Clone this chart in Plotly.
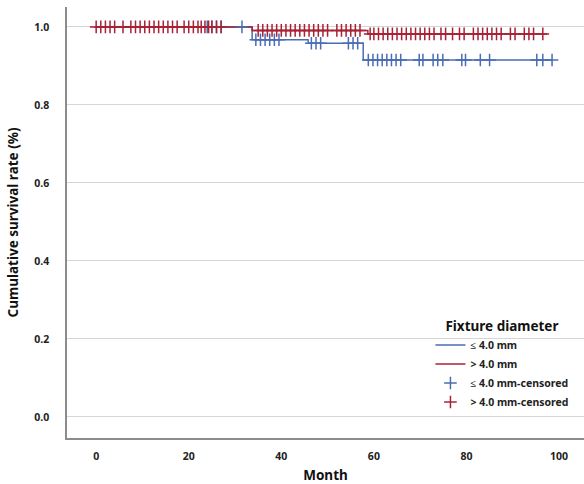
import plotly.graph_objects as go

# ---- data ----
blue_step_t = [0, 33.7, 45.8, 57.7, 98.5]
blue_step_s = [1.0, 0.967, 0.958, 0.915, 0.915]
red_step_t = [0, 33.7, 58.7, 97.4]
red_step_s = [1.0, 0.991, 0.982, 0.982]

blue_cens_t = [24, 25, 26, 27, 31.5,
               34.5, 35.5, 36.5, 37.5, 38.5, 39.5,
               46.5, 47.5, 48.5, 54.5, 55.5, 56.5,
               58.8, 59.8, 60.8, 61.8, 62.8, 63.8, 64.8, 65.8,
               69.8, 70.6, 72.8, 73.8, 74.9, 79.0, 79.8, 83.0, 85.0,
               95.2, 96.5, 98.5]
red_cens_t = [0, 1, 2, 3, 4, 5.8,
              7.5, 8.5, 9.5, 10.5, 11.5, 12.5, 13.5, 14.5, 15.5, 16.5, 17.5,
              19, 20, 21, 22, 22.7, 23.5, 24.3, 25, 26, 27,
              35, 36, 37, 38, 39, 40, 41, 42, 43, 44, 45, 46, 47, 48, 49, 50,
              52, 53, 54, 55, 56, 57,
              59.2, 60, 61, 62, 63, 64, 65, 66, 67, 68, 69, 70, 71, 72, 73,
              74.5, 75.5, 77, 78.5, 79.5, 81.5, 82.5, 83.5, 84.5, 85.5, 86.5, 87.5,
              89.5, 90.5, 92.5, 93.5, 94.5, 96.5]

series_names = ["≤ 4.0 mm", "> 4.0 mm", "≤ 4.0 mm-censored", "> 4.0 mm-censored"]
legend_title = "Fixture diameter"
x_ticks = [0, 20, 40, 60, 80, 100]
y_ticks = [0.0, 0.2, 0.4, 0.6, 0.8, 1.0]

BLUE = "#4a6db5"
RED = "#a82236"


def surv_at(ts, ss, t):
    v = ss[0]
    for ti, si in zip(ts, ss):
        if t >= ti:
            v = si
    return v


blue_cens_s = [surv_at(blue_step_t, blue_step_s, t) for t in blue_cens_t]
red_cens_s = [surv_at(red_step_t, red_step_s, t) for t in red_cens_t]

fig = go.Figure()
fig.add_trace(go.Scatter(x=blue_step_t, y=blue_step_s, mode="lines", line_shape="hv",
                         line=dict(color=BLUE, width=1.5), name=series_names[0]))
fig.add_trace(go.Scatter(x=red_step_t, y=red_step_s, mode="lines", line_shape="hv",
                         line=dict(color=RED, width=1.5), name=series_names[1]))
fig.add_trace(go.Scatter(x=blue_cens_t, y=blue_cens_s, mode="markers",
                         marker=dict(symbol="cross-thin", size=9, line=dict(color=BLUE, width=1.5)),
                         name=series_names[2]))
fig.add_trace(go.Scatter(x=red_cens_t, y=red_cens_s, mode="markers",
                         marker=dict(symbol="cross-thin", size=9, line=dict(color=RED, width=1.5)),
                         name=series_names[3]))

FONT = "Noto Sans"
fig.update_layout(
    width=584, height=484,
    margin=dict(l=67, r=0, t=7, b=46),
    paper_bgcolor="white", plot_bgcolor="white",
    font=dict(family=FONT, color="#222222"),
    showlegend=True,
    legend=dict(
        title=dict(text=legend_title, side="top center",
                   font=dict(size=13.5, weight="bold", color="#111111")),
        x=0.703, xanchor="left", y=0.29, yanchor="top",
        bgcolor="rgba(255,255,255,0)",
        font=dict(size=10.5, weight="bold", color="#222222"),
        tracegroupgap=0, itemwidth=30,
    ),
    xaxis=dict(
        range=[-6.3, 105.4], tickvals=x_ticks, showgrid=False, zeroline=False,
        showline=True, linecolor="#8c8c8c", linewidth=1.5, ticks="",
        ticklabelstandoff=8,
        tickfont=dict(size=10.5, weight="bold", color="#222222"),
        title=dict(text="Month", font=dict(size=13.5, weight="bold", color="#111111"), standoff=8),
    ),
    yaxis=dict(
        range=[-0.054, 1.051], tickvals=y_ticks, tickformat=".1f",
        showgrid=True, gridcolor="#d6d6d6", gridwidth=1, zeroline=False,
        showline=True, linecolor="#8c8c8c", linewidth=1.5, ticks="",
        ticklabelstandoff=14,
        tickfont=dict(size=10.5, weight="bold", color="#222222"),
        title=dict(text="Cumulative survival rate (%)",
                   font=dict(size=13.5, weight="bold", color="#111111"), standoff=12),
    ),
)

fig.write_html("out.html", config={"displayModeBar": False},
               post_script="document.body.style.margin='0';")
